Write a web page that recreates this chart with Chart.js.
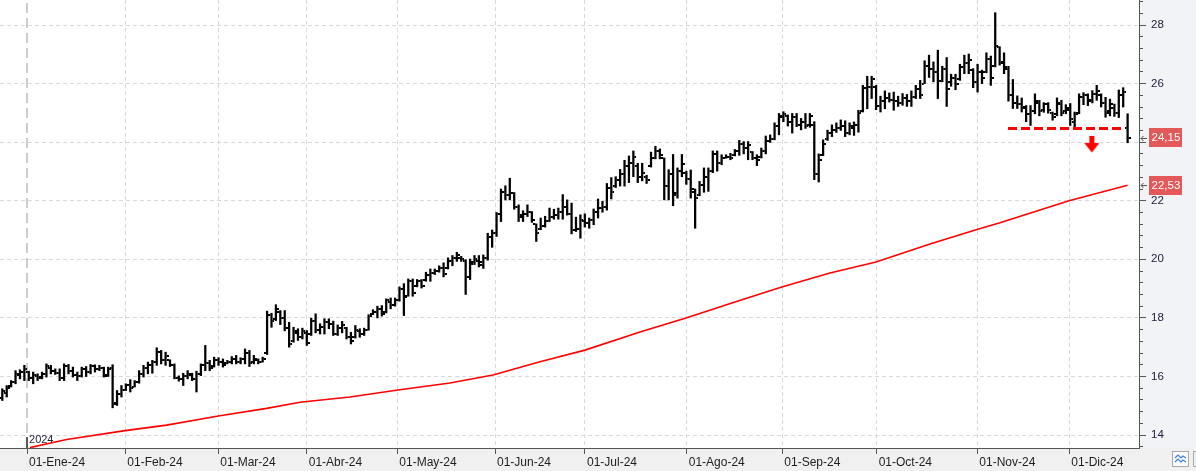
<!DOCTYPE html>
<html><head><meta charset="utf-8">
<script src="https://cdn.jsdelivr.net/npm/chart.js@4.4.1/dist/chart.umd.min.js"></script>
<style>html,body{margin:0;padding:0;background:#fff;overflow:hidden}canvas{display:block}</style>
</head><body>
<canvas id="c" width="1196" height="471"></canvas>
<script>
// ---- categories / ticks ----
const monthLabels = ['01-Ene-24','01-Feb-24','01-Mar-24','01-Abr-24','01-May-24','01-Jun-24','01-Jul-24','01-Ago-24','01-Sep-24','01-Oct-24','01-Nov-24','01-Dic-24'];
const monthPos = [5.60, 27.87, 48.95, 68.98, 89.51, 111.65, 132.04, 155.09, 176.75, 198.14, 220.94, 241.79];
const yMajor = [14, 16, 18, 20, 22, 24, 26, 28];
const yearLabel = '2024';
const yearPos = 5.60;

// ---- OHLC series (one value per trading day) ----
const opens = [
15.25,15.45,15.66,15.80,16.05,16.15,16.15,15.95,16.00,15.98,
16.10,16.30,16.20,16.12,15.95,16.35,16.20,16.05,16.00,16.25,
16.15,16.35,16.25,16.30,16.05,16.30,15.10,15.40,15.55,15.70,
15.65,15.80,16.10,16.30,16.40,16.50,16.85,16.55,16.55,16.40,
15.95,15.90,16.00,16.05,15.90,16.10,16.40,16.45,16.35,16.55,
16.50,16.45,16.50,16.60,16.50,16.60,16.80,16.50,16.55,16.50,
16.80,18.10,17.95,18.20,18.00,17.65,17.20,17.50,17.35,17.50,
17.45,17.90,17.60,17.70,17.85,17.80,17.45,17.65,17.65,17.35,
17.35,17.55,17.45,17.60,18.15,18.20,18.30,18.20,18.55,18.45,
18.60,19.00,18.75,19.25,19.10,19.25,19.30,19.45,19.55,19.60,
19.70,19.70,19.95,20.05,20.05,19.95,19.40,19.90,19.95,19.80,
20.05,20.75,20.90,21.55,22.30,22.20,22.25,21.80,21.50,21.55,
21.60,21.20,21.05,21.15,21.30,21.45,21.50,21.60,21.80,21.55,
21.00,21.05,21.30,21.25,21.35,21.60,21.75,21.80,22.45,22.50,
22.70,22.90,23.20,23.30,23.20,22.80,22.80,23.20,23.45,23.70,
23.45,22.50,22.90,22.25,23.00,22.95,22.75,22.30,22.20,22.55,
22.80,23.00,23.60,23.30,23.45,23.50,23.55,23.70,23.95,23.80,
23.65,23.45,23.50,23.70,24.05,24.10,24.55,24.85,24.90,24.70,
24.85,24.60,24.70,24.60,24.60,22.90,23.55,24.10,24.30,24.40,
24.50,24.55,24.30,24.50,24.60,25.05,25.85,25.90,25.90,25.25,
25.40,25.50,25.45,25.40,25.35,25.50,25.40,25.55,25.80,26.00,
26.60,26.50,26.40,26.10,26.50,26.05,26.20,26.15,26.55,26.70,
26.45,26.05,26.40,26.40,26.85,26.60,27.25,26.75,26.50,25.60,
25.35,25.30,25.15,24.95,25.05,25.35,25.10,25.30,25.00,24.95,
25.30,25.05,25.10,24.70,25.00,25.55,25.60,25.45,25.65,25.60,
25.35,25.05,25.15,25.00,25.60,24.50];
const highs = [
15.58,15.69,15.86,16.20,16.23,16.38,16.18,16.15,16.09,16.15,
16.43,16.38,16.26,16.26,16.43,16.41,16.32,16.15,16.32,16.34,
16.41,16.40,16.38,16.32,16.32,16.40,15.52,15.69,15.75,15.89,
15.86,16.20,16.38,16.49,16.55,16.98,16.89,16.83,16.57,16.43,
16.02,16.11,16.20,16.11,16.18,16.43,17.06,16.55,16.66,16.64,
16.60,16.55,16.68,16.72,16.64,16.94,16.89,16.72,16.60,16.66,
18.23,18.16,18.45,18.25,18.25,17.85,17.68,17.63,17.65,17.57,
17.99,18.14,17.80,17.97,17.97,17.89,17.76,17.88,17.68,17.51,
17.74,17.63,17.65,18.11,18.28,18.40,18.42,18.65,18.68,18.68,
19.06,19.17,19.33,19.33,19.31,19.31,19.56,19.67,19.67,19.78,
19.88,20.05,20.13,20.24,20.10,19.99,20.01,20.13,20.13,20.15,
20.89,21.00,21.60,22.40,22.51,22.77,22.28,21.86,21.66,21.86,
21.63,21.21,21.41,21.47,21.75,21.71,21.75,22.21,22.03,21.92,
21.44,21.52,21.55,21.41,21.72,22.06,21.98,22.59,22.79,22.82,
23.07,23.38,23.53,23.70,23.28,23.28,22.87,23.66,23.86,23.77,
23.46,23.06,23.58,23.12,23.58,23.01,23.05,22.40,22.66,23.12,
23.12,23.70,23.70,23.57,23.57,23.62,23.75,24.06,24.02,24.02,
23.68,23.57,23.80,24.21,24.25,24.66,24.98,25.04,24.93,24.98,
24.98,24.81,24.98,24.98,24.70,23.60,24.08,24.41,24.59,24.66,
24.76,24.73,24.66,24.69,25.09,25.94,26.25,26.25,25.94,25.57,
25.75,25.68,25.71,25.57,25.66,25.63,25.75,25.94,26.11,26.78,
26.97,26.74,27.14,26.59,26.89,26.32,26.32,26.66,26.97,27.01,
26.51,26.66,26.46,27.05,26.94,28.42,27.26,27.05,26.59,26.14,
25.58,25.51,25.25,25.25,25.65,25.43,25.35,25.35,25.03,25.51,
25.43,25.28,25.32,25.03,25.65,25.69,25.65,25.76,25.94,25.65,
25.53,25.47,25.30,25.78,25.86,24.97];
const lows = [
15.18,15.30,15.64,15.75,15.92,15.86,15.86,15.75,15.86,15.92,
15.98,16.09,16.07,15.86,15.86,16.09,15.98,15.86,15.98,16.00,
16.09,16.15,16.20,15.98,16.00,14.93,15.01,15.30,15.52,15.47,
15.64,15.77,15.98,16.09,16.11,16.38,16.43,16.38,16.34,15.92,
15.84,15.69,15.92,15.86,15.47,16.03,16.20,16.20,16.32,16.38,
16.32,16.43,16.43,16.43,16.43,16.43,16.34,16.43,16.43,16.49,
16.75,17.68,17.91,17.77,17.56,17.00,17.17,17.23,17.28,17.06,
17.40,17.49,17.45,17.45,17.63,17.40,17.40,17.49,17.28,17.11,
17.31,17.34,17.40,17.58,18.11,18.00,18.06,18.17,18.31,18.40,
18.57,18.08,18.74,18.74,19.06,19.02,19.25,19.25,19.48,19.56,
19.40,19.67,19.78,19.93,19.93,18.80,19.31,19.82,19.74,19.69,
19.97,20.41,20.78,21.29,22.03,22.03,21.71,21.29,21.29,21.46,
21.26,20.61,21.01,21.10,21.29,21.37,21.37,21.37,21.51,20.87,
20.95,20.72,21.10,21.06,21.18,21.41,21.61,21.68,22.06,22.45,
22.50,22.50,22.62,22.82,22.62,22.68,22.59,23.15,23.43,23.43,
22.03,22.03,21.83,22.09,22.82,22.56,22.09,21.06,22.17,22.29,
22.32,22.96,23.01,23.23,23.45,23.40,23.53,23.55,23.60,23.40,
23.40,23.20,23.46,23.60,23.99,24.08,24.25,24.70,24.55,24.31,
24.53,24.42,24.47,24.51,22.72,22.64,23.54,24.06,24.19,24.33,
24.40,24.19,24.25,24.23,24.34,25.03,25.14,25.49,25.11,25.03,
25.14,25.37,25.09,25.22,25.26,25.22,25.22,25.49,25.49,26.00,
26.21,26.06,25.49,26.06,25.22,25.91,25.79,26.11,26.34,26.34,
25.86,25.71,26.00,26.37,25.94,26.57,26.63,26.34,25.40,25.15,
25.15,25.03,24.70,24.57,24.97,24.90,25.02,24.99,24.75,24.90,
24.90,24.97,24.57,24.53,24.97,25.28,25.25,25.34,25.43,25.20,
24.85,24.90,24.88,24.84,25.20,23.98];
const closes = [
15.50,15.60,15.80,16.10,16.15,16.25,15.95,16.05,15.95,16.10,
16.35,16.20,16.12,15.95,16.35,16.20,16.05,16.00,16.25,16.15,
16.35,16.25,16.30,16.00,16.25,15.05,15.40,15.55,15.70,15.60,
15.80,16.10,16.30,16.40,16.50,16.85,16.55,16.70,16.40,15.95,
15.90,16.00,16.10,15.90,16.10,16.40,16.45,16.30,16.55,16.50,
16.40,16.50,16.60,16.50,16.60,16.80,16.45,16.60,16.50,16.60,
18.10,17.90,18.30,18.00,17.65,17.10,17.55,17.35,17.55,17.15,
17.90,17.60,17.70,17.85,17.80,17.45,17.65,17.75,17.35,17.20,
17.60,17.45,17.60,18.05,18.20,18.30,18.15,18.60,18.45,18.60,
19.00,18.70,19.25,18.85,19.25,19.10,19.45,19.55,19.60,19.70,
19.50,19.95,20.05,20.15,20.00,19.40,19.85,20.00,19.90,20.05,
20.75,20.90,21.55,22.30,22.20,22.25,21.80,21.45,21.55,21.60,
21.35,20.90,21.15,21.30,21.45,21.50,21.60,21.80,21.55,21.00,
21.05,21.35,21.25,21.35,21.60,21.75,21.80,22.45,22.30,22.70,
22.90,23.20,23.30,23.50,22.80,22.95,22.70,23.45,23.70,23.55,
22.50,22.90,22.20,23.00,23.25,22.75,22.40,22.10,22.55,22.80,
23.00,23.60,23.30,23.45,23.50,23.45,23.70,23.95,23.80,23.90,
23.45,23.40,23.70,24.05,24.10,24.55,24.90,24.95,24.70,24.85,
24.60,24.70,24.55,24.90,22.90,23.40,23.95,24.30,24.40,24.50,
24.55,24.30,24.55,24.60,25.00,25.85,25.90,26.15,25.25,25.40,
25.50,25.45,25.40,25.35,25.50,25.40,25.55,25.80,25.60,26.60,
26.50,26.40,26.10,26.50,25.80,26.20,26.00,26.55,26.70,26.80,
26.05,26.40,26.20,26.85,26.20,27.30,26.70,26.55,25.60,25.35,
25.30,25.20,24.95,25.05,25.40,25.05,25.30,25.10,24.85,25.35,
25.00,25.15,24.80,24.95,25.55,25.60,25.40,25.65,25.75,25.35,
25.00,25.30,25.00,25.60,25.70,24.15];

// ---- moving average (read at sample bars) ----
const maIdx = [6.28,14.59,27.8,37.25,48.95,59.91,67.46,78.79,89.67,101.45,111.19,121.85,132.04,144.5,154.93,166.03,176.45,187.56,197.98,210.22,220.87,226.08,241.72,255];
const maVal = [13.57,13.85,14.15,14.34,14.65,14.91,15.12,15.30,15.54,15.78,16.05,16.50,16.90,17.52,18.00,18.54,19.05,19.53,19.91,20.52,21.02,21.25,22.00,22.53];

// ---- annotations ----
const supportLevel = 24.47, supportFrom = 227.9, supportTo = 253.96;
const arrowIdx = 246.9, arrowVal = 23.92;

const yMin = 13.558, yMax = 28.854, xMin = -0.521, xMax = 257.58;

function mk(w, h, draw) { const c = document.createElement('canvas'); c.width = w; c.height = h; draw(c.getContext('2d')); return c; }
const openTick = mk(6, 2, g => { g.fillStyle = '#000'; g.fillRect(0, 0, 2, 2); });
const closeTick = mk(6, 2, g => { g.fillStyle = '#000'; g.fillRect(4, 0, 2, 2); });
const arrowImg = mk(15, 17, g => {
  g.fillStyle = '#ff0000'; g.fillRect(5, 0, 5, 8);
  g.beginPath(); g.moveTo(0, 7); g.lineTo(15, 7); g.lineTo(7.5, 16.5); g.closePath(); g.fill();
});

const isMajor = v => yMajor.includes(Math.round(v * 10) / 10);
const fmt = v => v.toFixed(2).replace('.', ',');

Chart.defaults.font.family = '"Liberation Sans", Arial, sans-serif';

const deco = {
  id: 'deco',
  beforeDraw(ch) {
    const { ctx, chartArea: a } = ch;
    ctx.save();
    ctx.fillStyle = '#ffffff'; ctx.fillRect(0, 0, ch.width, ch.height);
    ctx.fillStyle = '#f0f0f0'; ctx.fillRect(0, a.bottom, ch.width, ch.height - a.bottom);
    ctx.fillStyle = '#f2f3f6'; ctx.fillRect(a.right, 0, ch.width - a.right, a.bottom);
    ctx.restore();
  },
  afterDraw(ch) {
    const { ctx, chartArea: a } = ch;
    const xs = ch.scales.x, ys = ch.scales.y;
    ctx.save();
    // year label
    ctx.fillStyle = '#26263a'; ctx.font = '11px "Liberation Sans"';
    ctx.textAlign = 'left'; ctx.textBaseline = 'middle';
    ctx.fillText(yearLabel, xs.getPixelForValue(yearPos) + 2, a.bottom - 8.5);
    // badges
    const badge = (val) => {
      const y = ys.getPixelForValue(val);
      ctx.fillStyle = '#e35858';
      ctx.fillRect(a.right + 10, Math.round(y - 9.5), 33, 19);
      ctx.fillStyle = '#ffffff'; ctx.font = '11.5px "Liberation Sans"';
      ctx.textAlign = 'left'; ctx.textBaseline = 'middle';
      ctx.fillText(fmt(val), a.right + 12.5, y + 0.5);
      ctx.strokeStyle = '#555'; ctx.lineWidth = 1;
      ctx.beginPath();
      ctx.moveTo(a.right + 2, Math.round(y) + 0.5); ctx.lineTo(a.right + 8, Math.round(y) + 0.5);
      ctx.moveTo(a.right + 4.5, Math.round(y) - 2); ctx.lineTo(a.right + 2, Math.round(y) + 0.5); ctx.lineTo(a.right + 4.5, Math.round(y) + 3);
      ctx.stroke();
    };
    badge(closes[closes.length - 1]);
    badge(maVal[maVal.length - 1]);
    // bottom-right buttons
    ctx.fillStyle = '#fbfbfb'; ctx.fillRect(1172, 451, 17, 16);
    ctx.strokeStyle = '#a9a9a9'; ctx.lineWidth = 1;
    ctx.strokeRect(1172.5, 451.5, 16, 15);
    ctx.strokeRect(1193.5, 451.5, 16, 15);
    ctx.strokeStyle = '#3f7fd8'; ctx.lineWidth = 1.2;
    ctx.beginPath();
    ctx.moveTo(1175, 458); ctx.lineTo(1178, 455); ctx.lineTo(1181, 458); ctx.lineTo(1183, 456); ctx.lineTo(1186, 458);
    ctx.moveTo(1175, 462); ctx.lineTo(1178, 459); ctx.lineTo(1181, 462); ctx.lineTo(1183, 460); ctx.lineTo(1186, 462);
    ctx.stroke();
    ctx.restore();
  }
};

const hl = highs.map((h, i) => ({ x: i, y: [lows[i], h] }));
const op = opens.map((v, i) => ({ x: i, y: v }));
const cl = closes.map((v, i) => ({ x: i, y: v }));
const ma = maIdx.map((x, i) => ({ x: x, y: maVal[i] }));

const noPad = s => { s.paddingTop = 0; s.paddingBottom = 0; s.paddingLeft = 0; s.paddingRight = 0; };

new Chart(document.getElementById('c'), {
  type: 'line',
  data: {
    datasets: [
      { type: 'line', data: [{ x: yearPos, y: yMin }, { x: yearPos, y: yMax }], borderColor: '#cdcdcd', borderWidth: 2, borderDash: [10, 5], pointRadius: 0, order: 10 },
      { type: 'line', data: [{ x: yearPos, y: yMin }, { x: yearPos, y: 13.93 }], borderColor: '#333', borderWidth: 1.5, pointRadius: 0, order: 9 },
      { type: 'line', data: ma, borderColor: '#ff0000', borderWidth: 1.6, pointRadius: 0, tension: 0, order: 8 },
      { type: 'bar', data: hl, backgroundColor: '#000', borderWidth: 0, barThickness: 1.6, order: 5 },
      { type: 'scatter', data: op, pointStyle: openTick, pointRadius: 2, order: 4 },
      { type: 'scatter', data: cl, pointStyle: closeTick, pointRadius: 2, order: 4 },
      { type: 'line', data: [{ x: supportFrom, y: supportLevel }, { x: supportTo, y: supportLevel }], borderColor: '#ff0000', borderWidth: 3, borderDash: [9, 4], pointRadius: 0, order: 3 },
      { type: 'scatter', data: [{ x: arrowIdx, y: arrowVal }], pointStyle: arrowImg, pointRadius: 5, order: 2 }
    ]
  },
  options: {
    responsive: false, animation: false, devicePixelRatio: 1,
    layout: { padding: 0, autoPadding: false },
    plugins: { legend: { display: false }, tooltip: { enabled: false } },
    events: [],
    scales: {
      x: {
        type: 'linear', position: 'bottom', min: xMin, max: xMax, offset: false,
        afterBuildTicks: s => { s.ticks = monthPos.map(v => ({ value: v })); },
        afterFit: s => { s.height = 23; noPad(s); },
        ticks: {
          autoSkip: false, maxRotation: 0, align: 'start', labelOffset: 2, padding: 1,
          color: '#1e1e1e', font: { size: 12 },
          callback: (v, i) => monthLabels[i]
        },
        grid: {
          offset: false,
          color: c => (c.index === 0 ? 'rgba(0,0,0,0)' : '#d9d9d9'),
          tickColor: '#555', tickLength: 6, lineWidth: 1
        },
        border: { color: '#555', width: 1, dash: [4, 3] }
      },
      y: {
        type: 'linear', position: 'right', min: yMin, max: yMax,
        afterBuildTicks: s => {
          const t = [13.6];
          yMajor.forEach(m => { for (let k = 0; k < 5; k++) t.push(Math.round((m + k * 0.4) * 10) / 10); });
          s.ticks = t.filter(v => v >= yMin && v <= yMax).map(v => ({ value: v }));
        },
        afterFit: s => { s.width = 57; noPad(s); },
        ticks: {
          autoSkip: false, padding: 5, color: '#1c1c3a',
          font: c => (c.tick && isMajor(c.tick.value) ? { size: 11.5 } : { size: 11.5, lineHeight: 0 }),
          callback: v => (isMajor(v) && Math.round(v) !== 24 ? String(Math.round(v)) : '')
        },
        grid: {
          color: c => (isMajor(c.tick.value) ? '#d9d9d9' : 'rgba(0,0,0,0)'),
          tickColor: '#555', tickLength: 7,
          tickBorderDash: c => (isMajor(c.tick.value) ? [] : [3, 40])
        },
        border: { color: '#555', width: 1, dash: [4, 3] }
      }
    }
  },
  plugins: [deco]
});
</script>
</body></html>
